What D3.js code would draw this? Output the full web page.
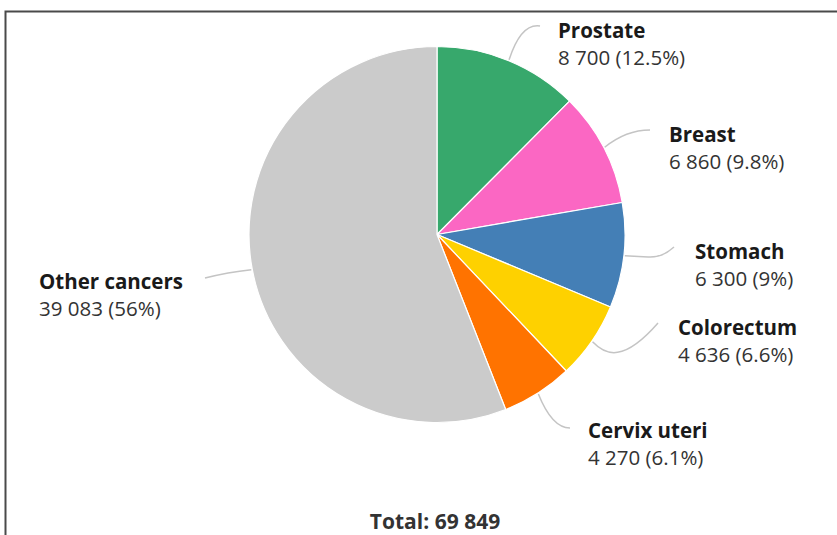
<!DOCTYPE html>
<html>
<head>
<meta charset="utf-8">
<script src="https://cdn.jsdelivr.net/npm/d3@7"></script>
<style>
  html, body { margin: 0; padding: 0; background: #fff; }
  svg { display: block; }
  text { font-family: "Open Sans", "Noto Sans", sans-serif; }
</style>
</head>
<body>
<div id="chart"></div>
<script>
// Cancer cases by site
const sites = ["Prostate", "Breast", "Stomach", "Colorectum", "Cervix uteri", "Other cancers"];
const cases = [8700, 6860, 6300, 4636, 4270, 39083];
const shares = ["12.5%", "9.8%", "9%", "6.6%", "6.1%", "56%"];
const colors = ["#37a86c", "#fb67c3", "#447fb6", "#fed100", "#ff7300", "#cbcbcb"];
const totalLabel = "Total: 69 849";

// Label placement: baseline of the name line, plus leader-line bends
const labelLayout = [
  { x: 558, y: 38,  path: (s) => `M${s[0]},${s[1]} Q521,23 540,26` },
  { x: 669, y: 142, path: (s) => `M${s[0]},${s[1]} Q626,130 650,130` },
  { x: 695, y: 259, path: (s) => `M${s[0]},${s[1]} L648,257 Q662,258 674,247` },
  { x: 678, y: 335, path: (s) => `M${s[0]},${s[1]} C606,356 624,362 658,323` },
  { x: 588, y: 438, path: (s) => `M${s[0]},${s[1]} Q552,428 570,428` },
  { x: 39,  y: 289, path: (s) => `M${s[0]},${s[1]} Q228,272 205,278` }
];

const W = 837, H = 535;
const cx = 437, cy = 234.5, R = 188;

const fmt = (v) => d3.format(",")(v).replace(/,/g, " ");

const svg = d3.select("#chart").append("svg")
  .attr("width", W).attr("height", H);

// frame
svg.append("rect")
  .attr("x", 5.5).attr("y", 11.5)
  .attr("width", W + 10).attr("height", H + 10)
  .attr("fill", "none").attr("stroke", "#4a4a4a").attr("stroke-width", 2);

const data = sites.map((s, i) => ({ site: s, value: cases[i], share: shares[i], color: colors[i], layout: labelLayout[i] }));

const pie = d3.pie().sort(null).value(d => d.value);
const arcs = pie(data);

const arc = d3.arc().innerRadius(0).outerRadius(R);
const edgeArc = d3.arc().innerRadius(R + 1).outerRadius(R + 1);

const g = svg.append("g").attr("transform", `translate(${cx},${cy})`);

g.selectAll("path.slice")
  .data(arcs)
  .join("path")
  .attr("class", "slice")
  .attr("d", arc)
  .attr("fill", d => d.data.color)
  .attr("stroke", "#fff")
  .attr("stroke-width", 1.2)
  .attr("stroke-linejoin", "round");

// leader lines
svg.selectAll("path.leader")
  .data(arcs)
  .join("path")
  .attr("class", "leader")
  .attr("d", d => {
    const c = edgeArc.centroid(d);
    return d.data.layout.path([cx + c[0], cy + c[1]]);
  })
  .attr("fill", "none")
  .attr("stroke", "#c4c4c4")
  .attr("stroke-width", 1.5);

// labels
const lbl = svg.selectAll("g.label")
  .data(arcs)
  .join("g")
  .attr("class", "label");

lbl.append("text")
  .attr("x", d => d.data.layout.x)
  .attr("y", d => d.data.layout.y)
  .attr("font-size", 20.5)
  .attr("font-weight", 700)
  .attr("fill", "#1a1a1a")
  .text(d => d.data.site);

lbl.append("text")
  .attr("x", d => d.data.layout.x)
  .attr("y", d => d.data.layout.y + 27)
  .attr("font-size", 20.5)
  .attr("fill", "#333")
  .text(d => `${fmt(d.data.value)} (${d.data.share})`);

svg.append("text")
  .attr("x", 435).attr("y", 529)
  .attr("text-anchor", "middle")
  .attr("font-size", 21)
  .attr("font-weight", 700)
  .attr("fill", "#333")
  .text(totalLabel);
</script>
</body>
</html>
